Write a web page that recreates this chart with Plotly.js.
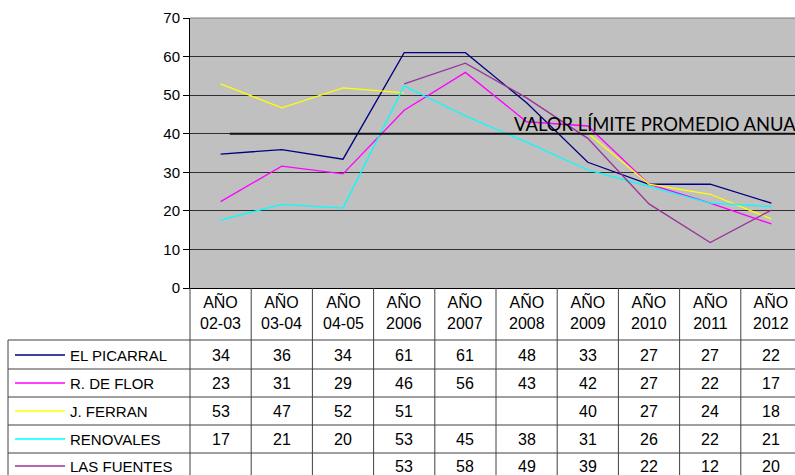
<!DOCTYPE html>
<html>
<head>
<meta charset="utf-8">
<script src="https://cdn.plot.ly/plotly-3.0.1.min.js"></script>
<style>
html,body{margin:0;padding:0;overflow:hidden;background:#fff;}
#chart{width:812px;height:475px;}
</style>
</head>
<body>
<div id="chart"></div>
<script>
// ---- data ----
const periods = ["02-03","03-04","04-05","2006","2007","2008","2009","2010","2011","2012"];
const headerWord = "AÑO";
const seriesNames = ["EL PICARRAL","R. DE FLOR","J. FERRAN","RENOVALES","LAS FUENTES"];
const seriesColors = ["#000080","#FF00FF","#FFFF00","#00FFFF","#993399"];
// values as plotted
const elPicarral = [34.7, 35.9, 33.4, 61, 61, 48, 32.6, 26.9, 26.9, 22];
const rDeFlor    = [22.4, 31.6, 29.6, 46.1, 55.9, 43.1, 42, 26.9, 22, 16.6];
const jFerran    = [52.9, 46.7, 51.9, 50.6, null, null, 40.2, 26.9, 24.3, 17.9];
const renovales  = [17.6, 21.7, 20.7, 52.4, 44.6, 37.8, 30.6, 26.3, 22, 21.1];
const lasFuentes = [null, null, null, 52.9, 58.3, 49.3, 38.8, 21.8, 11.8, 20.2];
// values as printed in the data table
const tblElPicarral = ["34","36","34","61","61","48","33","27","27","22"];
const tblRDeFlor    = ["23","31","29","46","56","43","42","27","22","17"];
const tblJFerran    = ["53","47","52","51","","","40","27","24","18"];
const tblRenovales  = ["17","21","20","53","45","38","31","26","22","21"];
const tblLasFuentes = ["","","","53","58","49","39","22","12","20"];
const limitValue = 40;
const limitLabel = "VALOR LÍMITE PROMEDIO ANUA";

// ---- layout helpers ----
const W = 812, H = 475, L = 190, R = 10, T = 18, B = 187;
const plotW = W - L - R, plotH = H - T - B;
const px = X => (X - L) / plotW;          // pixel x -> paper x
const py = Y => (H - B - Y) / plotH;      // pixel y -> paper y
const font = "Liberation Sans, Arial, sans-serif";
const gridCol = "#303030", tblCol = "#404040";

const allSeries = [elPicarral, rDeFlor, jFerran, renovales, lasFuentes];
const allTable = [tblElPicarral, tblRDeFlor, tblJFerran, tblRenovales, tblLasFuentes];
const xIdx = periods.map((p, i) => i);

const traces = allSeries.map((vals, i) => ({
  type: "scatter", mode: "lines", x: xIdx, y: vals, name: seriesNames[i],
  line: {color: seriesColors[i], width: 1.3}, connectgaps: false, hoverinfo: "skip"
}));

const shapes = [];
const annotations = [];

// top border of plot area
shapes.push({type:"line", xref:"paper", yref:"paper", x0:0, x1:1, y0:1, y1:1, line:{color:"#808080", width:1}});
// limit line
shapes.push({type:"line", xref:"x", yref:"y", x0:0.15, x1:10, y0:limitValue, y1:limitValue, line:{color:"#101010", width:2}, layer:"above"});
annotations.push({xref:"x", yref:"y", x:4.76, y:limitValue, xanchor:"left", yanchor:"bottom", yshift:-3,
  text:limitLabel, showarrow:false, font:{family:"Lato, sans-serif", size:18.4, color:"#000"}});

// table rows
const rowLines = [340, 369, 397, 425, 453];
const rowCenters = [355, 383, 411, 439, 466];
const tableBottom = 480;
rowLines.forEach(Y => shapes.push({type:"line", xref:"paper", yref:"paper", x0:px(8), x1:1.05, y0:py(Y), y1:py(Y), line:{color:tblCol, width:1}}));
// vertical lines
shapes.push({type:"line", xref:"paper", yref:"paper", x0:px(8), x1:px(8), y0:py(340), y1:py(tableBottom), line:{color:tblCol, width:1}});
shapes.push({type:"line", xref:"paper", yref:"paper", x0:0, x1:0, y0:0, y1:py(tableBottom), line:{color:tblCol, width:1}});
for (let j = 0; j < periods.length - 1; j++) {
  shapes.push({type:"line", xref:"x", yref:"paper", x0:j+0.5, x1:j+0.5, y0:0, y1:py(tableBottom), line:{color:tblCol, width:1}});
}
// header labels
periods.forEach((p, j) => annotations.push({xref:"x", yref:"paper", x:j, y:py(312), yanchor:"middle", xanchor:"center",
  text: headerWord + "<br>" + p, showarrow:false, font:{family:font, size:16, color:"#000"}}));
// legend keys + names + values
seriesNames.forEach((n, i) => {
  const yc = py(rowCenters[i]);
  shapes.push({type:"line", xref:"paper", yref:"paper", x0:px(15), x1:px(65), y0:yc, y1:yc, line:{color:seriesColors[i], width:1.5}});
  annotations.push({xref:"paper", yref:"paper", x:px(68), y:yc, xanchor:"left", yanchor:"middle",
    text:n, showarrow:false, font:{family:font, size:15, color:"#000"}});
  allTable[i].forEach((v, j) => {
    if (v === "") return;
    annotations.push({xref:"x", yref:"paper", x:j, y:yc, xanchor:"center", yanchor:"middle",
      text:v, showarrow:false, font:{family:font, size:16, color:"#000"}});
  });
});

const layout = {
  width: W, height: H,
  margin: {l:L, r:R, t:T, b:B, pad:0},
  paper_bgcolor: "#ffffff", plot_bgcolor: "#C0C0C0",
  showlegend: false,
  xaxis: {range:[-0.5, periods.length - 0.5], showticklabels:false, showgrid:false, zeroline:false,
    showline:true, linecolor:"#000", linewidth:1, ticks:"", fixedrange:true},
  yaxis: {range:[0,70], dtick:10, tick0:0, showgrid:true, gridcolor:gridCol, gridwidth:1, zeroline:false,
    showline:true, linecolor:"#000", linewidth:1, ticks:"outside", ticklen:6, tickcolor:"#000",
    tickfont:{family:font, size:15, color:"#000"}, fixedrange:true},
  shapes: shapes,
  annotations: annotations
};

Plotly.newPlot("chart", traces, layout, {staticPlot:true, displayModeBar:false});
</script>
</body>
</html>
